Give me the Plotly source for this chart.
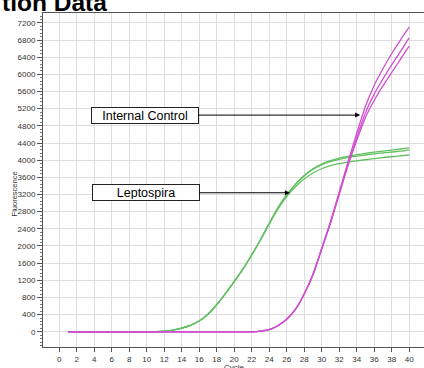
import plotly.graph_objects as go

cycles = list(range(1, 41))

lepto_a = [0]*10 + [3, 12, 40, 85, 150, 250, 410, 630, 890, 1170, 1460, 1790, 2140, 2520, 2890,
                    3190, 3440, 3640, 3800, 3910, 3990, 4050, 4090, 4130, 4160, 4185, 4210, 4235, 4260, 4285]
lepto_b = [0]*10 + [3, 12, 40, 85, 150, 250, 410, 630, 890, 1170, 1460, 1790, 2140, 2520, 2890,
                    3185, 3430, 3630, 3785, 3890, 3965, 4020, 4060, 4095, 4120, 4145, 4170, 4190, 4210, 4235]
lepto_c = [0]*10 + [3, 12, 40, 85, 150, 250, 410, 630, 890, 1170, 1460, 1790, 2140, 2510, 2860,
                    3150, 3380, 3560, 3700, 3800, 3870, 3920, 3955, 3985, 4010, 4035, 4060, 4080, 4100, 4120]

ic_a = [0]*22 + [15, 50, 140, 290, 520, 880, 1340, 1940, 2560, 3250, 3950, 4620, 5250, 5740, 6130, 6480, 6800, 7100]
ic_b = [0]*22 + [15, 50, 140, 290, 520, 880, 1330, 1930, 2540, 3220, 3900, 4520, 5100, 5540, 5890, 6220, 6530, 6850]
ic_c = [0]*22 + [15, 50, 140, 290, 520, 875, 1320, 1920, 2520, 3190, 3860, 4450, 4990, 5390, 5730, 6040, 6350, 6660]

x_ticks = list(range(0, 42, 2))
y_ticks = list(range(0, 7201, 400))

GREEN = "#62c062"
MAGENTA = "#cf4fcf"
FONT = "Arial, Liberation Sans, sans-serif"

fig = go.Figure()
for ys in (lepto_a, lepto_b, lepto_c):
    fig.add_trace(go.Scatter(x=cycles, y=ys, mode="lines",
                             line=dict(color=GREEN, width=1.3, shape="spline", smoothing=0.8),
                             showlegend=False, hoverinfo="skip"))
for ys in (ic_a, ic_b, ic_c):
    fig.add_trace(go.Scatter(x=cycles, y=ys, mode="lines",
                             line=dict(color=MAGENTA, width=1.3, shape="spline", smoothing=0.8),
                             showlegend=False, hoverinfo="skip"))

fig.update_layout(
    width=424, height=368,
    margin=dict(l=43, r=0, t=13, b=21),
    paper_bgcolor="white", plot_bgcolor="white",
    font=dict(family=FONT, color="#333"),
    xaxis=dict(range=[-1.85, 41.7], tickvals=x_ticks, showgrid=True, gridcolor="#dedede",
               gridwidth=1, zeroline=False, showline=True, linecolor="#555", linewidth=1,
               mirror=True, ticks="outside", ticklen=4, tickcolor="#555",
               tickfont=dict(size=8, family=FONT, color="#333")),
    yaxis=dict(range=[-355, 7430], tickvals=y_ticks, tickformat="d", showgrid=True,
               gridcolor="#dedede", gridwidth=1, zeroline=False, showline=True,
               linecolor="#555", linewidth=1, ticks="outside", ticklen=5, tickcolor="#555",
               tickfont=dict(size=8, family=FONT, color="#333"),
               minor=dict(ticks="outside", ticklen=2, dtick=80, tickcolor="#777", showgrid=False)),
)

fig.add_annotation(text="Fluorescence", xref="paper", yref="paper", x=-0.093, y=0.457,
                   textangle=-90, showarrow=False, font=dict(size=7.5, family=FONT, color="#333"))
fig.add_annotation(text="Cycle", xref="x", yref="paper", x=20, y=-0.043, yanchor="top",
                   showarrow=False, font=dict(size=8, family=FONT, color="#333"))
fig.add_annotation(text="<b>tion Data</b>", xref="paper", yref="paper", x=-43/381, xanchor="left",
                   y=0.985, yanchor="bottom", showarrow=False,
                   font=dict(size=24.5, family=FONT, color="black"))

fig.add_annotation(text="Internal Control", x=34.4, y=5050, ax=9.84, ay=5050,
                   xref="x", yref="y", axref="x", ayref="y",
                   showarrow=True, arrowhead=2, arrowsize=1, arrowwidth=1, arrowcolor="black",
                   font=dict(size=12.5, family=FONT, color="black"),
                   bordercolor="#222", borderwidth=1, borderpad=1, bgcolor="white",
                   width=104, height=13)
fig.add_annotation(text="Leptospira", x=26.37, y=3240, ax=9.9, ay=3240,
                   xref="x", yref="y", axref="x", ayref="y",
                   showarrow=True, arrowhead=2, arrowsize=1, arrowwidth=1, arrowcolor="black",
                   font=dict(size=12.5, family=FONT, color="black"),
                   bordercolor="#222", borderwidth=1, borderpad=1, bgcolor="white",
                   width=104, height=13)

fig.write_html("out.html", config={"displayModeBar": False},
               post_script="document.body.style.margin='0';document.body.style.overflow='hidden';")
